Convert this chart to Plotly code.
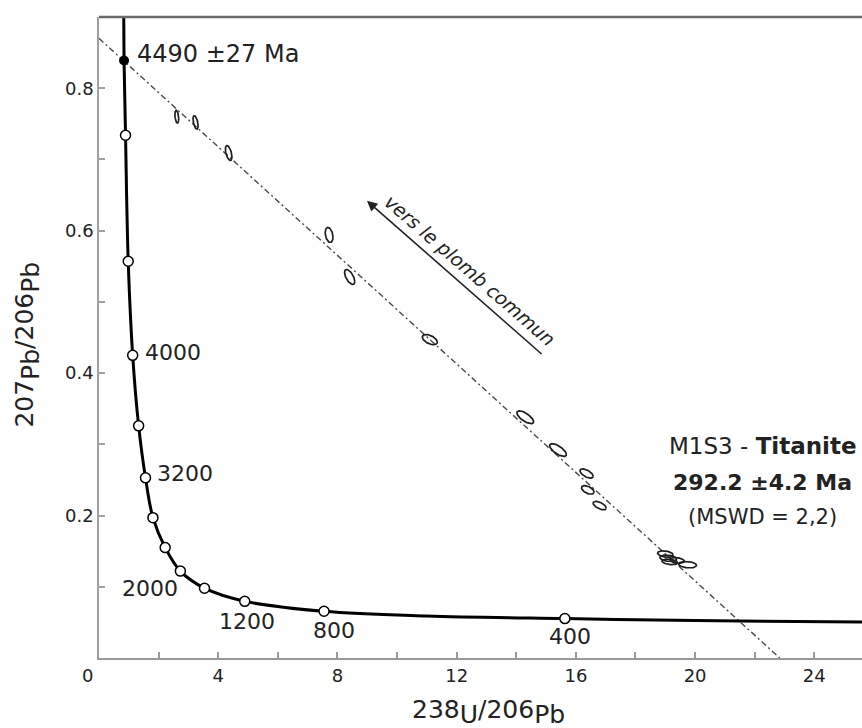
import numpy as np
import plotly.graph_objects as go

# ---------------- data ----------------
# Concordia curve (Tera-Wasserburg)
concordia_x = [0.81, 0.83, 0.84, 0.89, 0.98, 1.13, 1.33, 1.56, 1.81, 2.22, 2.73, 3.54,
               4.89, 7.55, 11.0, 15.63, 20.0, 25.6, 27.0]
concordia_y = [0.95, 0.90, 0.839, 0.734, 0.557, 0.425, 0.326, 0.253, 0.197, 0.155, 0.122, 0.098,
               0.0796, 0.0656, 0.059, 0.0553, 0.0527, 0.0506, 0.0503]

# Age ticks on the concordia (Ma) and their positions
age_ma = [400, 800, 1200, 1600, 2000, 2400, 2800, 3200, 3600, 4000, 4400, 4800]
age_x = [15.63, 7.55, 4.89, 3.54, 2.73, 2.22, 1.81, 1.56, 1.33, 1.13, 0.98, 0.89]
age_y = [0.0553, 0.0656, 0.0796, 0.098, 0.122, 0.155, 0.197, 0.253, 0.326, 0.425, 0.557, 0.734]

# Labelled ages
label_text = ["4000", "3200", "2000", "1200", "800", "400"]
label_x = [1.48, 1.87, 0.72, 4.96, 7.88, 15.79]
label_y = [0.4285, 0.259, 0.0975, 0.0506, 0.0389, 0.0295]
label_anchor = ["left", "left", "left", "center", "center", "center"]

# Upper intercept
intercept_x = [0.84]
intercept_y = [0.839]

# Discordia (regression line) end points
discordia_x = [0.0, 22.84]
discordia_y = [0.870, 0.0]

# Titanite analyses: centre, half-axes (2 sigma) and error correlation
ell_x = [2.61, 3.24, 4.35, 7.72, 8.41, 11.10, 14.30, 15.40, 16.36, 16.40, 16.80,
         19.00, 19.10, 19.15, 19.40, 19.75]
ell_y = [0.760, 0.752, 0.709, 0.594, 0.535, 0.447, 0.338, 0.292, 0.259, 0.236, 0.214,
         0.146, 0.140, 0.135, 0.137, 0.131]
ell_sx = [0.065, 0.085, 0.11, 0.13, 0.17, 0.25, 0.28, 0.28, 0.22, 0.21, 0.22,
          0.26, 0.28, 0.26, 0.24, 0.30]
ell_sy = [0.0090, 0.0095, 0.0105, 0.0105, 0.0105, 0.0072, 0.0090, 0.0090, 0.0065, 0.0060, 0.0060,
          0.0045, 0.0045, 0.0040, 0.0040, 0.0045]
ell_rho = [-0.3, -0.5, -0.5, -0.3, -0.6, -0.5, -0.7, -0.7, -0.6, -0.5, -0.6,
           -0.3, -0.3, -0.3, -0.3, -0.2]

x_major = [4, 8, 12, 16, 20, 24]
y_major = [0.2, 0.4, 0.6, 0.8]

FONT = "DejaVu Sans"
TXT = "#222222"

# ---------------- figure ----------------
fig = go.Figure()

# discordia line
fig.add_trace(go.Scatter(x=discordia_x, y=discordia_y, mode="lines",
                         line=dict(color="#4a4a4a", width=1.4, dash="6px,3px,2px,3px"),
                         hoverinfo="skip", showlegend=False))

# error ellipses
t = np.linspace(0, 2 * np.pi, 61)
ex, ey = [], []
for cx, cy, sx, sy, r in zip(ell_x, ell_y, ell_sx, ell_sy, ell_rho):
    ex += list(cx + sx * np.cos(t)) + [None]
    ey += list(cy + sy * (r * np.cos(t) + np.sqrt(1 - r * r) * np.sin(t))) + [None]
fig.add_trace(go.Scatter(x=ex, y=ey, mode="lines", line=dict(color="#1e1e1e", width=1.7),
                         hoverinfo="skip", showlegend=False))

# concordia curve
fig.add_trace(go.Scatter(x=concordia_x, y=concordia_y, mode="lines",
                         line=dict(color="black", width=3, shape="spline", smoothing=1.0),
                         hoverinfo="skip", showlegend=False))
# age markers
fig.add_trace(go.Scatter(x=age_x, y=age_y, mode="markers", text=[str(a) for a in age_ma],
                         marker=dict(symbol="circle", size=10, color="white",
                                     line=dict(color="black", width=1.5)),
                         showlegend=False))
# upper intercept
fig.add_trace(go.Scatter(x=intercept_x, y=intercept_y, mode="markers",
                         marker=dict(symbol="circle", size=10, color="black"),
                         showlegend=False))

annotations = []
for txt, x, y, a in zip(label_text, label_x, label_y, label_anchor):
    annotations.append(dict(x=x, y=y, xref="x", yref="y", text=txt, showarrow=False,
                            xanchor=a, yanchor="middle",
                            font=dict(family=FONT, size=22, color=TXT)))
annotations.append(dict(x=1.20, y=0.848, xref="x", yref="y", text="4490 ±27 Ma", showarrow=False,
                        xanchor="left", yanchor="middle", font=dict(family=FONT, size=24, color=TXT)))
# "0" of the x axis, drawn left of the corner
annotations.append(dict(x=0, y=0, xref="x", yref="y", text="0", showarrow=False,
                        xanchor="center", yanchor="top", xshift=-12, yshift=-5,
                        font=dict(family=FONT, size=18, color=TXT)))
# sample text
annotations.append(dict(x=22.27, y=0.297, xref="x", yref="y", text="M1S3 - <b>Titanite</b>",
                        showarrow=False, xanchor="center", yanchor="middle",
                        font=dict(family=FONT, size=23, color=TXT)))
annotations.append(dict(x=22.27, y=0.246, xref="x", yref="y", text="<b>292.2 ±4.2 Ma</b>",
                        showarrow=False, xanchor="center", yanchor="middle",
                        font=dict(family=FONT, size=22, color=TXT)))
annotations.append(dict(x=22.27, y=0.198, xref="x", yref="y", text="(MSWD = 2,2)",
                        showarrow=False, xanchor="center", yanchor="middle",
                        font=dict(family=FONT, size=21, color=TXT)))
# arrow towards common lead
annotations.append(dict(x=8.99, y=0.642, xref="x", yref="y", ax=14.90, ay=0.425,
                        axref="x", ayref="y", text="", showarrow=True, arrowhead=2,
                        arrowsize=1.3, arrowwidth=1.6, arrowcolor="#222"))
annotations.append(dict(x=12.44, y=0.545, xref="x", yref="y", text="<i>vers le plomb commun</i>",
                        showarrow=False, textangle=41, xanchor="center", yanchor="middle",
                        font=dict(family=FONT, size=19, color=TXT)))
# axis titles
big = 'style="font-size:25px"'
annotations.append(dict(x=13.08, y=0, xref="x", yref="paper",
                        text=f'238<sub><span {big}>U</span></sub>/206<sub><span {big}>Pb</span></sub>',
                        showarrow=False, xanchor="center", yanchor="middle", yshift=-54,
                        font=dict(family=FONT, size=25, color=TXT)))
annotations.append(dict(x=0, y=0.44, xref="paper", yref="y",
                        text=f'207<sub><span {big}>Pb</span></sub>/206<sub><span {big}>Pb</span></sub>',
                        showarrow=False, textangle=-90, xanchor="center", yanchor="middle", xshift=-72,
                        font=dict(family=FONT, size=25, color=TXT)))

fig.update_layout(
    width=862, height=728,
    margin=dict(l=99, r=0, t=17, b=70, autoexpand=False),
    paper_bgcolor="white", plot_bgcolor="white",
    showlegend=False,
    annotations=annotations,
    shapes=[dict(type="line", xref="paper", yref="paper", x0=0, x1=1, y0=1, y1=1,
                 line=dict(color="#6a6a6a", width=2.5))],
)
fig.update_xaxes(range=[0, 25.6], showgrid=False, zeroline=False, automargin=False,
                 showline=True, linecolor="#9a9a9a", linewidth=2,
                 ticks="inside", ticklen=6, tickcolor="#9a9a9a", tickwidth=1.5,
                 tickvals=x_major, ticktext=[str(v) for v in x_major],
                 tickfont=dict(family=FONT, size=18, color=TXT),
                 minor=dict(dtick=2, tick0=0, ticks="inside", ticklen=6, tickcolor="#9a9a9a", tickwidth=1.5))
fig.update_yaxes(range=[0, 0.9], showgrid=False, zeroline=False, automargin=False,
                 showline=True, linecolor="#a0a0a0", linewidth=1.5,
                 ticks="inside", ticklen=6, tickcolor="#a0a0a0", tickwidth=1.5,
                 tickvals=y_major, ticktext=[f"{v:.1f}" for v in y_major],
                 tickfont=dict(family=FONT, size=18, color=TXT),
                 minor=dict(dtick=0.1, tick0=0, ticks="inside", ticklen=6, tickcolor="#a0a0a0", tickwidth=1.5))

fig.write_html("out.html", config={"displayModeBar": False},
               post_script="document.body.style.margin='0';document.body.style.overflow='hidden';")
